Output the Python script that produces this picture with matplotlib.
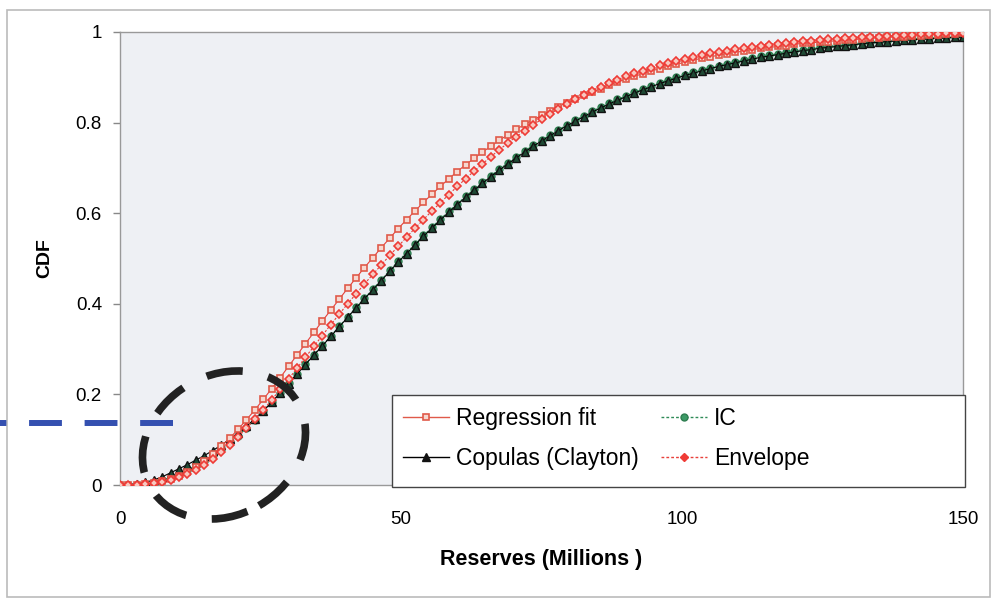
import numpy as np
import matplotlib
matplotlib.use("Agg")
import matplotlib.pyplot as plt
from matplotlib.patches import Ellipse, Rectangle
from matplotlib.lines import Line2D

plt.rcParams['font.family'] = ['Liberation Sans', 'DejaVu Sans']

# reserves grid (millions), one point every 1.5
reserves = np.linspace(0, 150, 101)

regression_fit = [
    0.000, 0.000, 0.001, 0.002, 0.004, 0.008, 0.013, 0.020, 0.029, 0.040,
    0.053, 0.068, 0.085, 0.103, 0.123, 0.144, 0.166, 0.189, 0.213, 0.237,
    0.262, 0.287, 0.312, 0.337, 0.362, 0.386, 0.410, 0.434, 0.457, 0.480,
    0.502, 0.524, 0.545, 0.566, 0.586, 0.605, 0.624, 0.642, 0.659, 0.676,
    0.692, 0.707, 0.721, 0.735, 0.748, 0.761, 0.773, 0.785, 0.796, 0.806,
    0.816, 0.826, 0.835, 0.844, 0.852, 0.860, 0.867, 0.875, 0.882, 0.889,
    0.896, 0.902, 0.908, 0.914, 0.919, 0.924, 0.929, 0.933, 0.938, 0.942,
    0.945, 0.949, 0.952, 0.955, 0.958, 0.961, 0.964, 0.966, 0.968, 0.970,
    0.973, 0.975, 0.976, 0.978, 0.979, 0.981, 0.982, 0.983, 0.985, 0.986,
    0.987, 0.988, 0.989, 0.990, 0.991, 0.992, 0.993, 0.994, 0.995, 0.996,
    0.997,
]

copulas_clayton = [
    0.000, 0.001, 0.003, 0.006, 0.011, 0.018, 0.027, 0.036, 0.045, 0.055,
    0.065, 0.076, 0.088, 0.101, 0.115, 0.130, 0.146, 0.164, 0.183, 0.203,
    0.224, 0.245, 0.266, 0.287, 0.307, 0.328, 0.349, 0.370, 0.391, 0.411,
    0.431, 0.451, 0.472, 0.492, 0.511, 0.530, 0.549, 0.567, 0.585, 0.602,
    0.619, 0.635, 0.651, 0.666, 0.681, 0.695, 0.709, 0.722, 0.735, 0.748,
    0.759, 0.771, 0.782, 0.793, 0.803, 0.813, 0.823, 0.832, 0.841, 0.849,
    0.857, 0.865, 0.872, 0.879, 0.886, 0.892, 0.898, 0.904, 0.909, 0.914,
    0.919, 0.924, 0.928, 0.932, 0.936, 0.940, 0.944, 0.947, 0.950, 0.953,
    0.956, 0.959, 0.961, 0.964, 0.966, 0.968, 0.970, 0.972, 0.974, 0.976,
    0.977, 0.979, 0.980, 0.982, 0.983, 0.984, 0.985, 0.986, 0.987, 0.988,
    0.989,
]

ic = [
    0.000, 0.000, 0.001, 0.003, 0.006, 0.011, 0.017, 0.024, 0.033, 0.043,
    0.054, 0.066, 0.079, 0.094, 0.109, 0.126, 0.144, 0.163, 0.183, 0.203,
    0.225, 0.246, 0.267, 0.288, 0.308, 0.329, 0.350, 0.371, 0.392, 0.412,
    0.433, 0.453, 0.474, 0.494, 0.513, 0.532, 0.551, 0.569, 0.587, 0.604,
    0.621, 0.637, 0.653, 0.668, 0.683, 0.697, 0.711, 0.724, 0.737, 0.750,
    0.761, 0.773, 0.784, 0.795, 0.805, 0.815, 0.825, 0.834, 0.843, 0.851,
    0.859, 0.867, 0.874, 0.881, 0.888, 0.894, 0.900, 0.906, 0.911, 0.916,
    0.921, 0.926, 0.930, 0.934, 0.938, 0.942, 0.946, 0.949, 0.952, 0.955,
    0.958, 0.961, 0.963, 0.966, 0.968, 0.970, 0.972, 0.974, 0.976, 0.978,
    0.979, 0.981, 0.982, 0.984, 0.985, 0.986, 0.987, 0.988, 0.989, 0.990,
    0.991,
]

envelope = [
    0.000, 0.000, 0.001, 0.002, 0.004, 0.007, 0.011, 0.017, 0.025, 0.034,
    0.045, 0.058, 0.072, 0.088, 0.106, 0.125, 0.145, 0.166, 0.188, 0.211,
    0.234, 0.258, 0.282, 0.306, 0.330, 0.354, 0.377, 0.400, 0.422, 0.444,
    0.465, 0.486, 0.507, 0.527, 0.547, 0.567, 0.586, 0.605, 0.623, 0.641,
    0.659, 0.676, 0.693, 0.709, 0.725, 0.740, 0.755, 0.769, 0.782, 0.795,
    0.807, 0.819, 0.830, 0.841, 0.851, 0.861, 0.870, 0.879, 0.887, 0.895,
    0.902, 0.909, 0.915, 0.921, 0.927, 0.932, 0.937, 0.941, 0.945, 0.949,
    0.953, 0.956, 0.959, 0.962, 0.965, 0.967, 0.970, 0.972, 0.974, 0.976,
    0.978, 0.980, 0.981, 0.983, 0.984, 0.985, 0.986, 0.987, 0.988, 0.989,
    0.990, 0.991, 0.992, 0.993, 0.994, 0.995, 0.995, 0.996, 0.997, 0.997,
    0.998,
]

fig = plt.figure(figsize=(9.93, 6.0), dpi=100)
ax = fig.add_axes([120 / 993, 1 - 485 / 600, 843 / 993, 453 / 600])
ax.set_facecolor('#eef0f4')

# overlay in pixel units for the frame, legend box and hand-drawn marks
ov = fig.add_axes([0, 0, 1, 1], facecolor='none')
ov.set_xlim(0, 993)
ov.set_ylim(0, 600)
ov.axis('off')

red = '#e8403a'
ax.plot(reserves, ic, color='#2e8b57', lw=0.8, ls=(0, (2, 1.5)), marker='o',
        ms=5, mfc='#3c9a66', mec='#2e7d50', mew=1.0, zorder=3)
ax.plot(reserves, copulas_clayton, color='black', lw=0.8, marker='^',
        ms=5.5, mfc='#1f4a35', mec='#111111', mew=1.0, zorder=4)
ax.plot(reserves, regression_fit, color=red, lw=0.8, marker='s',
        ms=5, mfc='#f6d8d0', mec='#e05a4a', mew=1.2, zorder=5)
ax.plot(reserves, envelope, color=red, lw=0.8, ls=(0, (2, 1.5)), marker='D',
        ms=4.5, mfc='#f7c9c0', mec='#ef3b36', mew=1.2, zorder=6)

ax.set_xlim(0, 150)
ax.set_ylim(0, 1)
ax.set_xticks([0, 50, 100, 150])
ax.set_yticks([0, 0.2, 0.4, 0.6, 0.8, 1])
ax.set_yticklabels(['0', '0.2', '0.4', '0.6', '0.8', '1'])
ax.tick_params(axis='x', length=0, pad=19, labelsize=13.5)
ax.tick_params(axis='y', length=5, width=1, color='#888888', pad=8, labelsize=13.5)
for s in ax.spines.values():
    s.set_color('#999999')
    s.set_linewidth(1.0)

ax.set_xlabel('Reserves (Millions )', fontsize=15.5, fontweight='bold', labelpad=15)
ax.set_ylabel('CDF', fontsize=14, fontweight='bold', labelpad=16)

h_reg = Line2D([], [], color='#e05a4a', lw=1, marker='s', ms=5,
               mfc='#f6d8d0', mec='#e05a4a', mew=1.2)
h_cop = Line2D([], [], color='black', lw=1, marker='^', ms=5.5,
               mfc='#111111', mec='#111111')
h_ic = Line2D([], [], color='#2e8b57', lw=1, ls=(0, (2, 1.5)), marker='o',
              ms=5, mfc='#3c9a66', mec='#2e7d50')
h_env = Line2D([], [], color=red, lw=1, ls=(0, (2, 1.5)), marker='D', ms=4.5,
               mfc='#ef3b36', mec='#ef3b36')
leg = ov.legend([h_reg, h_cop, h_ic, h_env],
                ['Regression fit', 'Copulas (Clayton)', 'IC', 'Envelope'],
                ncol=2, loc='center left', bbox_to_anchor=(403, 161.5),
                bbox_transform=ov.transData,
                fontsize=16.5, handlelength=2.0, handletextpad=0.3,
                columnspacing=1.0, labelspacing=0.75, borderpad=0,
                borderaxespad=0, frameon=False)
leg.set_zorder(10)
ov.add_patch(Rectangle((392, 113), 573, 92, fc='white', ec='#444444',
                       lw=1.0, zorder=9))

ov.add_patch(Rectangle((7, 3), 983, 587, fill=False, ec='#bbbbbb', lw=1.2))
ov.add_patch(Ellipse((224, 155), 170, 140, angle=30, fill=False,
                     ec='#222222', lw=5.5, ls=(0, (4.8, 3.4)), capstyle='butt',
                     zorder=12))
ov.plot([173, -5], [177, 177], color='#3450b0', lw=4.3,
        ls=(0, (5.5, 3.8)), solid_capstyle='butt', dash_capstyle='butt',
        zorder=12)

fig.savefig('out.png', dpi=100)
